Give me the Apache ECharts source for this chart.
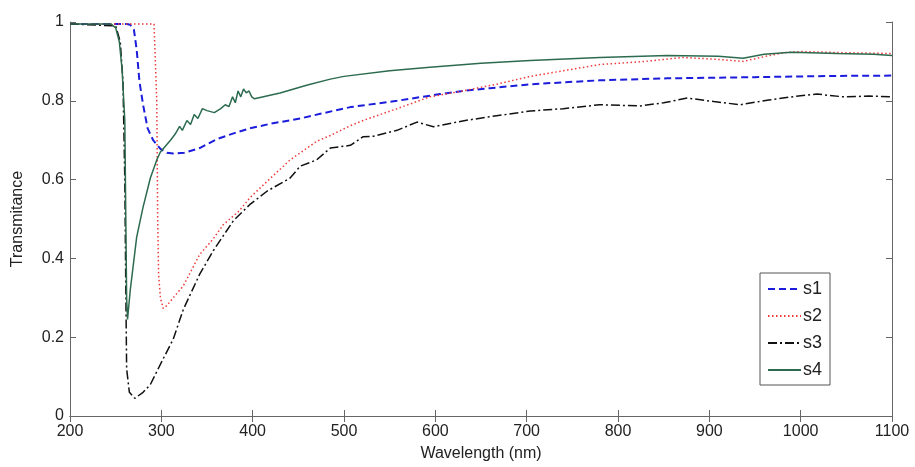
<!DOCTYPE html>
<html>
<head>
<meta charset="utf-8">
<title>Transmitance</title>
<script src="https://cdn.jsdelivr.net/npm/echarts@6/dist/echarts.min.js"></script>
<style>
  html, body { margin: 0; padding: 0; background: #fff; }
  #chart { width: 915px; height: 467px; }
</style>
</head>
<body>
<div id="chart"></div>
<script>
// wavelength (nm) / transmitance
var s1Wave = [200, 240, 262, 266, 270, 273, 276, 280, 285, 291, 299, 306, 313, 325, 342, 361, 380, 397, 420, 452, 474, 507, 558, 605, 630, 660, 704, 780, 854, 950, 1030, 1100];
var s1Value = [0.995, 0.995, 0.995, 0.993, 0.98, 0.93, 0.85, 0.79, 0.73, 0.70, 0.678, 0.668, 0.666, 0.668, 0.68, 0.703, 0.718, 0.73, 0.742, 0.755, 0.767, 0.784, 0.80, 0.817, 0.825, 0.832, 0.842, 0.852, 0.857, 0.86, 0.863, 0.864];

var s2Wave = [200, 292, 294, 295, 296, 297, 299, 302, 306, 313, 324, 342, 357, 368, 385, 397, 416, 441, 470, 485, 507, 521, 558, 594, 630, 667, 704, 780, 830, 871, 910, 937, 960, 981, 1000, 1050, 1100];
var s2Value = [0.995, 0.995, 0.99, 0.8, 0.5, 0.36, 0.3, 0.273, 0.28, 0.30, 0.33, 0.41, 0.45, 0.486, 0.52, 0.554, 0.596, 0.65, 0.697, 0.712, 0.737, 0.75, 0.78, 0.81, 0.825, 0.842, 0.862, 0.892, 0.90, 0.91, 0.905, 0.90, 0.912, 0.922, 0.925, 0.922, 0.92];

var s3Wave = [200, 250, 255, 258, 260, 261, 262, 265, 271, 280, 288, 302, 313, 324, 342, 357, 379, 397, 416, 441, 452, 470, 485, 507, 521, 532, 558, 580, 598, 630, 667, 704, 740, 780, 824, 850, 876, 905, 934, 965, 1000, 1018, 1047, 1075, 1100];
var s3Value = [0.995, 0.99, 0.95, 0.85, 0.6, 0.35, 0.12, 0.06, 0.045, 0.06, 0.08, 0.145, 0.195, 0.27, 0.36, 0.42, 0.496, 0.537, 0.571, 0.604, 0.634, 0.65, 0.68, 0.687, 0.709, 0.71, 0.725, 0.746, 0.734, 0.749, 0.762, 0.774, 0.78, 0.79, 0.787, 0.795, 0.807, 0.798, 0.79, 0.802, 0.813, 0.817, 0.81, 0.812, 0.81];

var s4Wave = [200, 245, 250, 254, 257, 260, 262, 263, 266, 273, 280, 288, 295, 299, 310, 315, 320, 323, 328, 332, 336, 340, 345, 350, 358, 365, 370, 374, 378, 381, 384, 387, 390, 393, 396, 399, 402, 430, 460, 485, 500, 550, 594, 650, 704, 780, 854, 910, 937, 960, 990, 1040, 1080, 1100];
var s4Value = [0.995, 0.995, 0.985, 0.95, 0.88, 0.75, 0.3, 0.245, 0.32, 0.454, 0.53, 0.604, 0.65, 0.67, 0.70, 0.715, 0.735, 0.725, 0.75, 0.74, 0.765, 0.755, 0.78, 0.775, 0.77, 0.78, 0.79, 0.785, 0.81, 0.795, 0.825, 0.81, 0.83, 0.82, 0.825, 0.81, 0.805, 0.82, 0.84, 0.855, 0.862, 0.876, 0.885, 0.895, 0.902, 0.91, 0.915, 0.913, 0.908, 0.918, 0.923, 0.92, 0.918, 0.915];

var seriesNames = ["s1", "s2", "s3", "s4"];
var yTicks = [0, 0.2, 0.4, 0.6, 0.8, 1];

function pairs(xs, ys) {
  var out = [];
  for (var i = 0; i < xs.length; i++) out.push([xs[i], ys[i]]);
  return out;
}

var font = "Liberation Sans, Arial, sans-serif";
var axisColor = "#666";

var chart = echarts.init(document.getElementById("chart"));
var option = {
  animation: false,
  grid: { left: 70, right: 23, top: 22, bottom: 46 },
  legend: {
    data: seriesNames,
    orient: "vertical",
    left: 760,
    top: 273,
    width: 69,
    backgroundColor: "#fff",
    borderColor: "#555",
    borderWidth: 1,
    borderRadius: 0,
    padding: [7, 8, 6, 7],
    itemGap: 9,
    itemWidth: 33,
    itemHeight: 14,
    itemStyle: { opacity: 0 },
    textStyle: { fontFamily: font, fontSize: 18, color: "#222", padding: [0, 0, 0, -3] },
  },
  xAxis: [
    {
      type: "value",
      min: 200,
      max: 1100,
      interval: 100,
      name: "Wavelength (nm)",
      nameLocation: "middle",
      nameGap: 30,
      nameTextStyle: { fontFamily: font, fontSize: 16, color: "#222" },
      axisLine: { lineStyle: { color: axisColor } },
      axisTick: { inside: true, length: 6, lineStyle: { color: axisColor } },
      axisLabel: {
        fontFamily: font,
        fontSize: 16,
        color: "#222",
        margin: 8,
        formatter: function (v) {
          return String(v);
        },
      },
      splitLine: { show: false },
    },
    {
      type: "value",
      position: "top",
      min: 200,
      max: 1100,
      interval: 100,
      axisLine: { lineStyle: { color: axisColor } },
      axisTick: { inside: true, length: 6, lineStyle: { color: axisColor } },
      axisLabel: { show: false },
      splitLine: { show: false },
    },
  ],
  yAxis: [
    {
      type: "value",
      min: 0,
      max: 1,
      interval: 0.2,
      name: "Transmitance",
      nameLocation: "middle",
      nameGap: 44,
      nameTextStyle: { fontFamily: font, fontSize: 16, color: "#222" },
      axisLine: { show: true, lineStyle: { color: axisColor } },
      axisTick: { show: true, inside: true, length: 6, lineStyle: { color: axisColor } },
      axisLabel: {
        fontFamily: font,
        fontSize: 16,
        color: "#222",
        margin: 6,
        formatter: function (v) {
          return String(yTicks[Math.round(v * 5)]);
        },
      },
      splitLine: { show: false },
    },
    {
      type: "value",
      position: "right",
      min: 0,
      max: 1,
      interval: 0.2,
      axisLine: { show: true, lineStyle: { color: axisColor } },
      axisTick: { show: true, inside: true, length: 6, lineStyle: { color: axisColor } },
      axisLabel: { show: false },
      splitLine: { show: false },
    },
  ],
  series: [
    {
      name: "s1",
      type: "line",
      symbol: "none",
      lineStyle: { color: "#1c1cdc", width: 2, type: [7, 4] },
      itemStyle: { color: "#1c1cdc" },
      data: pairs(s1Wave, s1Value),
    },
    {
      name: "s2",
      type: "line",
      symbol: "none",
      lineStyle: { color: "#ee3b3b", width: 1.5, type: [1.5, 2.5] },
      itemStyle: { color: "#ee3b3b" },
      data: pairs(s2Wave, s2Value),
    },
    {
      name: "s3",
      type: "line",
      symbol: "none",
      lineStyle: { color: "#111", width: 1.5, type: [9, 3, 2, 3] },
      itemStyle: { color: "#111" },
      data: pairs(s3Wave, s3Value),
    },
    {
      name: "s4",
      type: "line",
      symbol: "none",
      lineStyle: { color: "#2d6b50", width: 1.5 },
      itemStyle: { color: "#2d6b50" },
      data: pairs(s4Wave, s4Value),
    },
  ],
};
chart.setOption(option);
</script>
</body>
</html>
